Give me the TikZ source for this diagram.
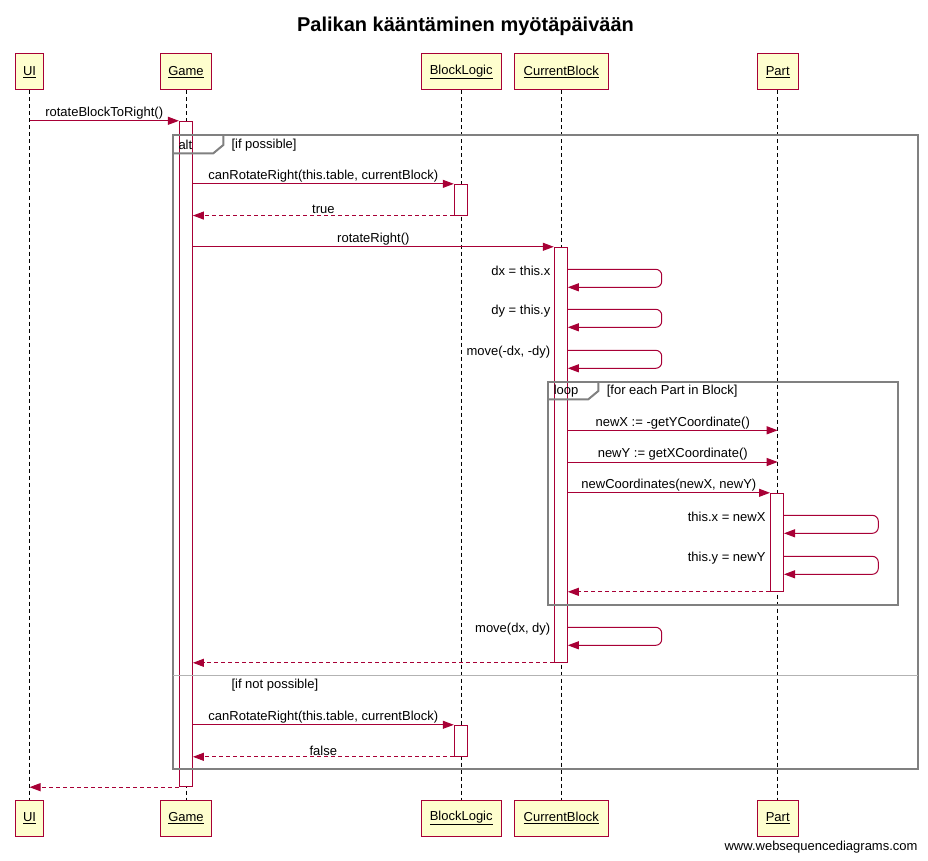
\documentclass[tikz,border=0pt]{standalone}
\usepackage{fontspec}
\setmainfont{Liberation Sans}
\usetikzlibrary{arrows.meta}
\definecolor{wsdred}{RGB}{168,0,54}
\definecolor{wsdbox}{RGB}{254,254,206}
\definecolor{wsdgray}{RGB}{128,128,128}
\tikzset{every picture/.style={line width=1pt},
	actor/.style={draw=wsdred, fill=wsdbox, minimum height=36, inner sep=0, font=\fontsize{13}{15}\selectfont},
	act/.style={draw=wsdred, fill=white, minimum width=13, inner sep=0},
	msg/.style={draw=wsdred, -{Triangle[length=11pt,width=8pt]}},
	ret/.style={msg, dash pattern=on 4pt off 3pt},
	lifeline/.style={dash pattern=on 4pt off 3pt},
	frame/.style={draw=wsdgray, line width=2pt},
	lbl/.style={font=\fontsize{13}{15}\selectfont, inner sep=1pt}}

\begin{document}
\begin{tikzpicture}[x=1pt,y=1pt,yscale=-1,xscale=1]
	\useasboundingbox (0,0) rectangle (928,861);

	% Text Node
	\node[font=\bfseries\fontsize{20}{22}\selectfont, anchor=base] (title) at (465.5,31.5) {Palikan kääntäminen myötäpäivään};

	%Participants, top
	\node[actor, minimum width=28] (ui) at (29.5,72) {\underline{UI}};
	\node[actor, minimum width=51] (game) at (186,72) {\underline{Game}};
	\node[actor, minimum width=80] (logic) at (461.2,72) {\underline{BlockLogic}};
	\node[actor, minimum width=94] (cur) at (561.2,72) {\underline{CurrentBlock}};
	\node[actor, minimum width=41] (part) at (777.7,72) {\underline{Part}};
	%Participants, bottom
	\node[actor, minimum width=28] (uiB) at (29.5,818) {\underline{UI}};
	\node[actor, minimum width=51] (gameB) at (186,818) {\underline{Game}};
	\node[actor, minimum width=80] (logicB) at (461.2,818) {\underline{BlockLogic}};
	\node[actor, minimum width=94] (curB) at (561.2,818) {\underline{CurrentBlock}};
	\node[actor, minimum width=41] (partB) at (777.7,818) {\underline{Part}};

	%Lifelines
	\draw[lifeline] (ui.south) -- (uiB.north);
	\draw[lifeline] (game.south) -- (gameB.north);
	\draw[lifeline] (logic.south) -- (logicB.north);
	\draw[lifeline] (cur.south) -- (curB.north);
	\draw[lifeline] (part.south) -- (partB.north);

	%Activations
	\node[act, minimum height=665.4] (gameAct) at (185.9,454) {};
	\node[act, minimum height=30.7] (logicAct1) at (460.8,199.7) {};
	\node[act, minimum height=415] (curAct) at (560.8,454.8) {};
	\node[act, minimum height=98] (partAct) at (777,542.3) {};
	\node[act, minimum height=31] (logicAct2) at (460.8,740.8) {};

	%Frame: alt
	\draw[frame] (172.7,135) rectangle (918.3,768.7);
	\draw[frame] (172.7,153.3) -- (213.3,153.3) -- (223.3,145) -- (223.3,135);
	\draw[draw=wsdgray!60, line width=1.5pt] (172.7,675.5) -- (918.3,675.5);
	\node[lbl, anchor=west] (altTag) at (177,145) {alt};
	\node[lbl, anchor=west] (altIf) at (230,145) {[if possible]};
	\node[lbl, anchor=west] (altElse) at (230,685.5) {[if not possible]};

	%Frame: loop
	\draw[frame] (547.7,381.7) rectangle (898,604.7);
	\draw[frame] (547.7,399.3) -- (588.3,399.3) -- (598.3,391) -- (598.3,381.7);
	\node[lbl, anchor=west] (loopTag) at (552.3,391) {loop};
	\node[lbl, anchor=west] (loopIf) at (605.3,391) {[for each Part in Block]};

	%Messages
	\draw[msg] (ui |- gameAct.north) -- (gameAct.north west) node[lbl, midway, above] (mRot) {rotateBlockToRight()};
	\draw[msg] (gameAct.east |- logicAct1.north) -- (logicAct1.north west) node[lbl, midway, above] (mCan) {canRotateRight(this.table, currentBlock)};
	\draw[ret] (logicAct1.south west) -- (gameAct.east |- logicAct1.south) node[lbl, midway, above] (mTrue) {true};
	\draw[msg] (gameAct.east |- curAct.north) -- (curAct.north west) node[lbl, midway, above] (mRight) {rotateRight()};

	%Self messages, CurrentBlock
	\draw[msg, rounded corners=6pt] (curAct.east |- 0,269.3) -- (661.7,269.3) |- (curAct.east |- 0,287.3);
	\node[lbl, anchor=east, xshift=-2pt] (sDx) at (curAct.west |- 0,271) {dx = this.x};
	\draw[msg, rounded corners=6pt] (curAct.east |- 0,309.3) -- (661.7,309.3) |- (curAct.east |- 0,327.3);
	\node[lbl, anchor=east, xshift=-2pt] (sDy) at (curAct.west |- 0,311) {dy = this.y};
	\draw[msg, rounded corners=6pt] (curAct.east |- 0,350.3) -- (661.7,350.3) |- (curAct.east |- 0,368.3);
	\node[lbl, anchor=east, xshift=-2pt] (sMove1) at (curAct.west |- 0,352) {move(-dx, -dy)};

	%Inside loop
	\draw[msg] (curAct.east |- 0,430.3) -- (part |- 0,430.3) node[lbl, midway, above] (mNewX) {newX := -getYCoordinate()};
	\draw[msg] (curAct.east |- 0,462) -- (part |- 0,462) node[lbl, midway, above] (mNewY) {newY := getXCoordinate()};
	\draw[msg] (curAct.east |- partAct.north) -- (partAct.north west) node[lbl, midway, above] (mNewC) {newCoordinates(newX, newY)};
	\draw[msg, rounded corners=6pt] (partAct.east |- 0,515.3) -- (878.3,515.3) |- (partAct.east |- 0,533.3);
	\node[lbl, anchor=east, xshift=-3pt] (sX) at (partAct.west |- 0,517) {this.x = newX};
	\draw[msg, rounded corners=6pt] (partAct.east |- 0,556.3) -- (878.3,556.3) |- (partAct.east |- 0,574.3);
	\node[lbl, anchor=east, xshift=-3pt] (sY) at (partAct.west |- 0,558) {this.y = newY};
	\draw[ret] (partAct.south west) -- (curAct.east |- partAct.south);

	%After loop
	\draw[msg, rounded corners=6pt] (curAct.east |- 0,627.3) -- (661.7,627.3) |- (curAct.east |- 0,645.3);
	\node[lbl, anchor=east, xshift=-2pt] (sMove2) at (curAct.west |- 0,629) {move(dx, dy)};
	\draw[ret] (curAct.south west) -- (gameAct.east |- curAct.south);

	%Else branch
	\draw[msg] (gameAct.east |- logicAct2.north) -- (logicAct2.north west) node[lbl, midway, above] (mCan2) {canRotateRight(this.table, currentBlock)};
	\draw[ret] (logicAct2.south west) -- (gameAct.east |- logicAct2.south) node[lbl, midway, above] (mFalse) {false};
	\draw[ret] (gameAct.south west) -- (ui |- gameAct.south);

	% Text Node
	\node[lbl, anchor=east] (wsd) at (919,847.3) {www.websequencediagrams.com};

\end{tikzpicture}
\end{document}
